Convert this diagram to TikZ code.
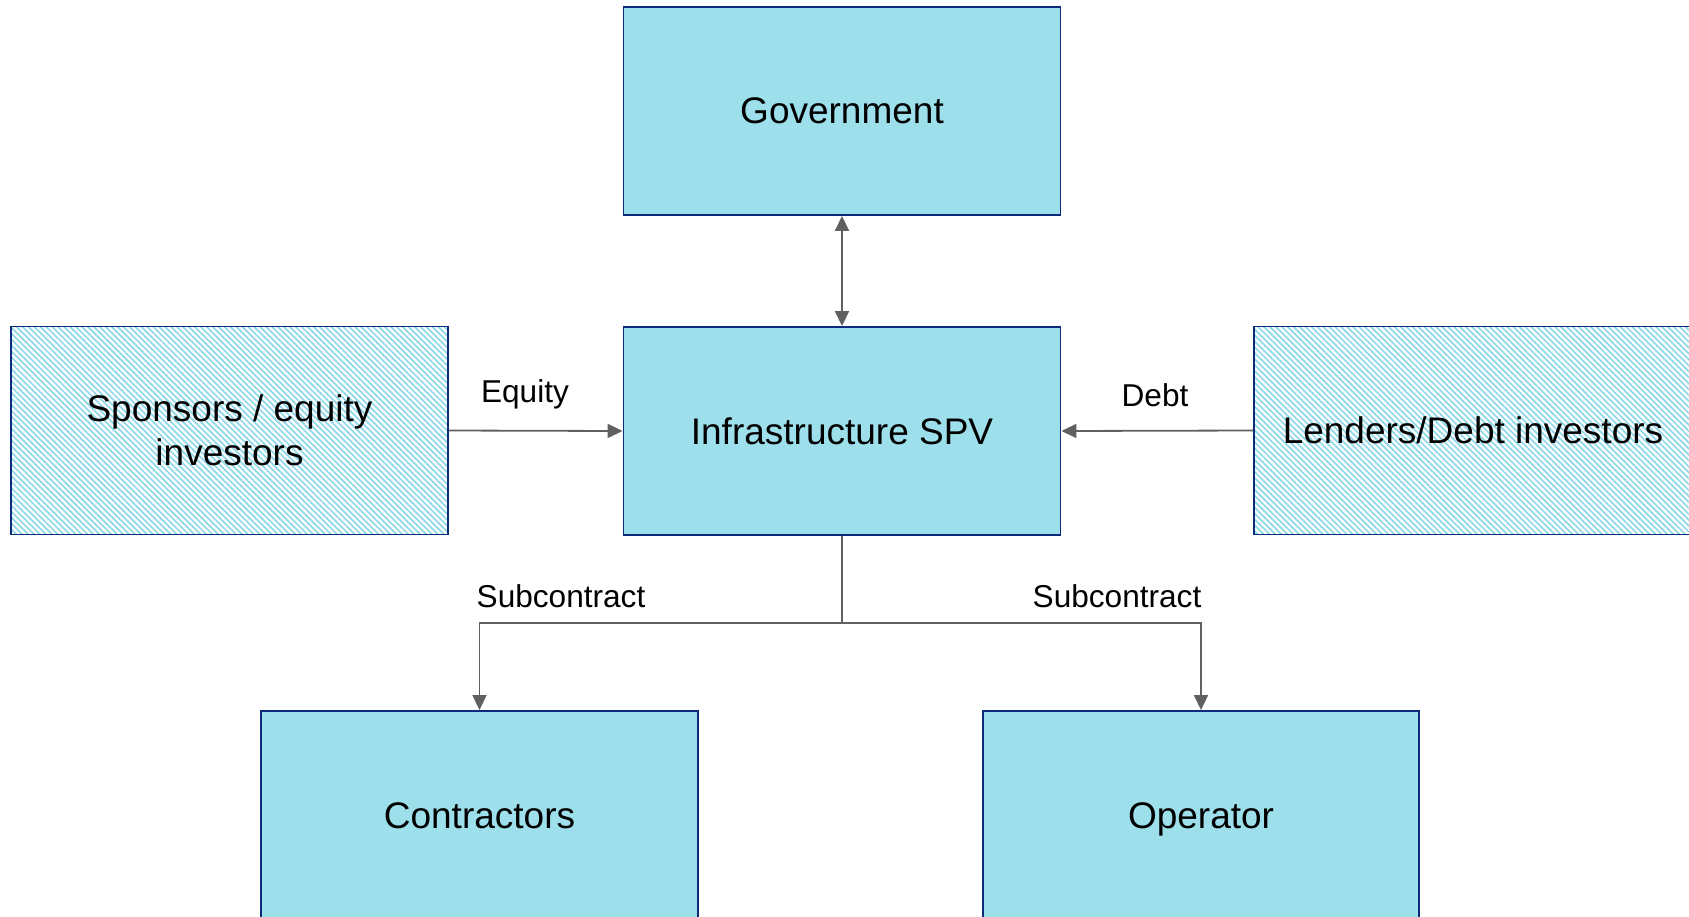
\documentclass[tikz,border=0pt]{standalone}
\usepackage{fontspec}
\setmainfont{Liberation Sans}
\usetikzlibrary{arrows.meta,patterns.meta}
\definecolor{boxfill}{HTML}{9DE0EC}
\definecolor{boxline}{HTML}{0B2C7A}
\definecolor{hatch}{HTML}{8FD8EA}
\definecolor{arrowgray}{HTML}{606060}
\tikzset{
  ent/.style={draw=boxline, line width=1.9pt, fill=boxfill, inner sep=0pt,
    minimum width=437pt, minimum height=208pt, align=center,
    font=\fontsize{37pt}{44.5pt}\selectfont},
  oneline/.style={text depth=0pt},
  hatched/.style={ent, fill=none, preaction={fill=white},
    pattern={Lines[angle=-45,distance=4.2pt,line width=1.7pt]}, pattern color=hatch},
  conn/.style={draw=arrowgray, line width=1.8pt, -{Triangle[length=15pt,width=14pt]}},
  lbl/.style={font=\fontsize{31.6pt}{38pt}\selectfont, inner sep=0pt}
}
\begin{document}
\begin{tikzpicture}[x=1pt,y=1pt]
\clip (0,0) rectangle (1689,-916);
\fill[white] (0,0) rectangle (1689,-916);
\node[ent, oneline] (gov) at (842,-111) {Government};
\node[ent, oneline] (spv) at (842,-431) {Infrastructure SPV};
\node[hatched] (spon) at (229.5,-430.5) {Sponsors / equity\\investors};
\node[hatched, oneline, minimum width=438pt] (lend) at (1473,-430.5) {Lenders/Debt investors};
\node[ent, oneline, minimum height=209pt] (con) at (479.5,-815.5) {Contractors};
\node[ent, oneline, minimum height=209pt, minimum width=436pt] (op) at (1201,-815.5) {Operator};
\coordinate (split) at (842,-623);
\draw[conn, {Triangle[length=15pt,width=14pt]}-{Triangle[length=15pt,width=14pt]}] (gov.south) -- (spv.north);
\draw[conn] (spon.east) -- (spv.west);
\draw[conn] (lend.west) -- (spv.east);
\draw[conn] (spv.south) -- (split) -| (con.north);
\draw[conn] (split) -| (op.north);
\node[lbl] (eq) at (525,-394) {Equity};
\node[lbl] (debt) at (1155,-395) {Debt};
\node[lbl] (sc1) at (561,-596) {Subcontract};
\node[lbl] (sc2) at (1117,-596) {Subcontract};
\end{tikzpicture}
\end{document}
